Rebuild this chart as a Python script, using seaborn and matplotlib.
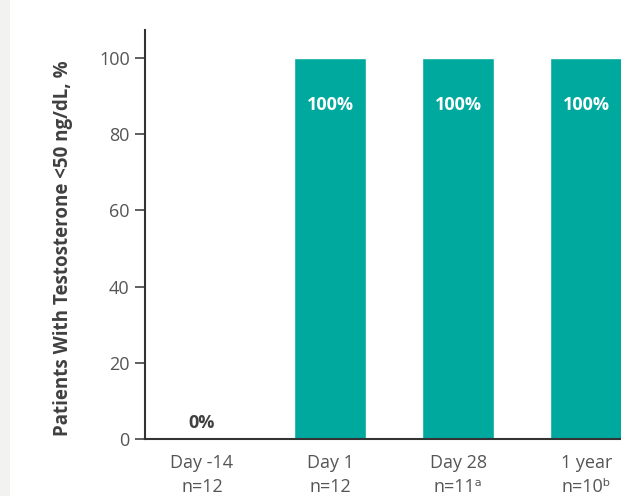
import matplotlib
matplotlib.use('Agg')
import matplotlib.pyplot as plt
import seaborn as sns
from matplotlib.patches import Rectangle

# data
timepoints = ['Day -14', 'Day 1', 'Day 28', '1 year']
n_labels = ['n=12', 'n=12', 'n=11\u1d43', 'n=10\u1d47']
pct_suppressed = [0, 100, 100, 100]

sns.set_style('white')
plt.rcParams['font.family'] = ['Open Sans', 'DejaVu Sans']

teal = '#00A99D'
dark = '#333333'
grey_txt = '#555555'

fig = plt.figure(figsize=(6.21, 4.96), dpi=100)
# light grey strip on the left edge of the page
fig.patches.append(Rectangle((0, 0), 10 / 621, 1, transform=fig.transFigure,
                             facecolor='#F2F2F0', edgecolor='none', zorder=0))

ax = fig.add_axes([145 / 621, 1 - 439 / 496, 476 / 621, 409 / 496])
sns.barplot(x=timepoints, y=pct_suppressed, color=teal, saturation=1,
            width=0.5625, ax=ax)

ax.set_xlim(-0.445, 3.27)
ax.set_ylim(0, 107.3)
ax.set_yticks([0, 20, 40, 60, 80, 100])
ax.set_xticks(range(len(timepoints)))
ax.set_xticklabels([f'{t}\n{n}' for t, n in zip(timepoints, n_labels)])

sns.despine(ax=ax)
for s in ['left', 'bottom']:
    ax.spines[s].set_linewidth(1.5)
    ax.spines[s].set_color(dark)

ax.tick_params(axis='y', length=7, width=1.1, color=dark, labelsize=13,
               labelcolor=grey_txt, pad=4, left=True)
ax.tick_params(axis='x', length=0, labelsize=13, labelcolor=grey_txt, pad=11)
for lab in ax.get_xticklabels():
    lab.set_linespacing(1.4)

ax.set_xlabel('')
ax.set_ylabel('Patients With Testosterone <50 ng/dL, %', fontsize=13.5,
              fontweight='bold', color='#404040')
ax.yaxis.set_label_coords(-0.151, 0.466)

# value labels
for i, v in enumerate(pct_suppressed):
    if v > 0:
        ax.text(i, v - 12.3, f'{v}%', ha='center', va='center', color='white',
                fontsize=13, fontweight='bold')
    else:
        ax.text(i, v + 4.2, f'{v}%', ha='center', va='center', color='#404040',
                fontsize=13, fontweight='bold')

fig.savefig('out.png', dpi=100)
